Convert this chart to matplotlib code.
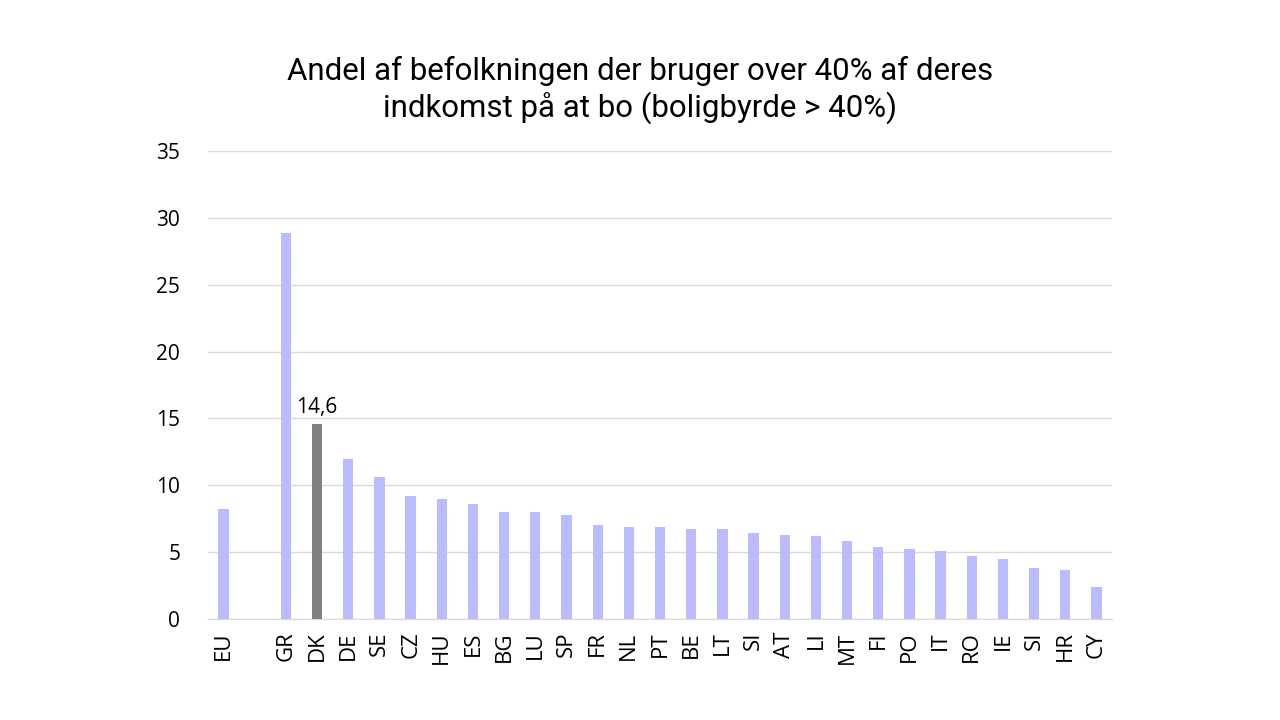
import matplotlib
matplotlib.use("Agg")
import matplotlib.pyplot as plt

categories = ["EU", "", "GR", "DK", "DE", "SE", "CZ", "HU", "ES", "BG", "LU", "SP", "FR", "NL",
              "PT", "BE", "LT", "SI", "AT", "LI", "MT", "FI", "PO", "IT", "RO", "IE", "SI", "HR", "CY"]
values = [8.2, None, 28.9, 14.6, 12.0, 10.6, 9.2, 9.0, 8.6, 8.0, 8.0, 7.8, 7.0, 6.9,
          6.9, 6.7, 6.7, 6.4, 6.3, 6.2, 5.8, 5.4, 5.2, 5.1, 4.7, 4.5, 3.8, 3.7, 2.4]
highlight = "DK"
title = "Andel af befolkningen der bruger over 40% af deres\nindkomst på at bo (boligbyrde > 40%)"

plt.rcParams['font.family'] = ['Open Sans', 'DejaVu Sans']

fig = plt.figure(figsize=(12.8, 7.2), dpi=100)
ax = fig.add_axes([0.1625, 0.1403, 0.7063, 0.65])

x = list(range(len(categories)))
vals = [0 if v is None else v for v in values]
colors = ["#808080" if c == highlight else "#BBBBFF" for c in categories]
bars = ax.bar(x, vals, width=0.33, color=colors, zorder=3)

for i, (c, v) in enumerate(zip(categories, values)):
    if c == highlight:
        ax.annotate(f"{v:.1f}".replace(".", ","), (i, v), xytext=(0, 4), textcoords="offset points",
                    ha="center", va="bottom", fontsize=15, color="#000000")

ax.set_xlim(-0.5, len(categories) - 0.5)
ax.set_ylim(0, 35)
ax.set_yticks(range(0, 36, 5))
ax.set_xticks(x)
ax.set_xticklabels(categories, rotation=90, fontsize=16)
ax.tick_params(axis="y", labelsize=15, length=0, pad=20)
ax.tick_params(axis="x", length=0, pad=9)
ax.grid(axis="y", color="#D9D9D9", linewidth=1, zorder=0)
for s in ["top", "right", "left"]:
    ax.spines[s].set_visible(False)
ax.spines["bottom"].set_color("#D9D9D9")

fig.text(0.5, 0.875, title, ha="center", va="center", fontsize=22.5, linespacing=1.2,
         family=["Roboto", "DejaVu Sans"])

fig.savefig("out.png", dpi=100)
